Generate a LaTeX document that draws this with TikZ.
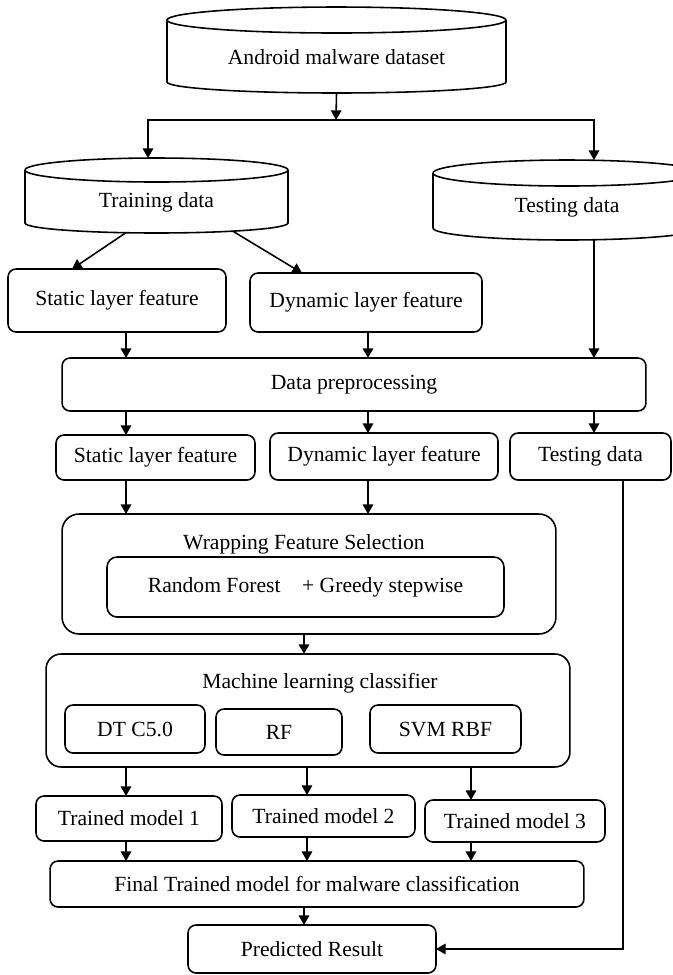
\documentclass[tikz,border=0pt]{standalone}
\usepackage{fontspec}
\setmainfont{Liberation Serif}
\usetikzlibrary{calc,arrows.meta}

% node name, half width, rim radius, bottom radius
\newcommand\drum[4]{%
  \draw ($(#1.north)+(0,#3)$) ellipse [x radius=#2, y radius=#3];
  \draw ($(#1.north west)+(0,#3)$) -- (#1.south west) arc[start angle=180, end angle=360, x radius=#2, y radius=#4] -- ($(#1.north east)+(0,#3)$);
  \coordinate (#1-top) at ($(#1.north)+(0,2*#3)$);
  \coordinate (#1-bot) at ($(#1.south)+(0,-#4)$);
}

\tikzset{
  box/.style={draw, rounded corners=0.16cm, outer sep=0pt},
  frame/.style={draw, rounded corners=0.34cm, outer sep=0pt},
  body/.style={outer sep=0pt},
  arr/.style={-{Triangle[length=5.5pt,width=6pt]}},
  every node/.style={font=\fontsize{12.3pt}{14pt}\selectfont}
}

\begin{document}
\begin{tikzpicture}[x=0.02cm, y=-0.02cm, line width=0.9pt]
\clip (0,0) rectangle (673,975);

\node[body, minimum width=6.78cm, minimum height=0.98cm] (amd) at (336.5,57.5) {Android malware dataset};
\drum{amd}{3.39cm}{0.26cm}{0.22cm}
\node[body, minimum width=5.26cm, minimum height=0.82cm] (trn) at (156.5,202.5) {Training data};
\drum{trn}{2.63cm}{0.24cm}{0.2cm}
\node[body, minimum width=5.36cm, minimum height=0.84cm] (tst) at (567,207) {Testing data};
\drum{tst}{2.68cm}{0.26cm}{0.24cm}

\node[box, minimum width=4.36cm, minimum height=1.26cm] (sf1) at (117,300.5) {Static layer feature};
\node[box, minimum width=4.64cm, minimum height=1.18cm] (df1) at (366,302.5) {Dynamic layer feature};
\node[box, minimum width=11.68cm, minimum height=1.06cm] (pre) at (354,384.5) {Data preprocessing};
\node[box, minimum width=3.98cm, minimum height=0.9cm] (sf2) at (155.5,457.5) {Static layer feature};
\node[box, minimum width=4.56cm, minimum height=0.94cm] (df2) at (384,456.5) {Dynamic layer feature};
\node[box, minimum width=3.22cm, minimum height=0.94cm] (td2) at (590.5,456.5) {Testing data};

\node[frame, minimum width=9.88cm, minimum height=2.4cm] (wfs) at (309,574) {};
\node (wfst) at (304,544) {Wrapping Feature Selection};
\node[box, rounded corners=0.2cm, minimum width=7.94cm, minimum height=1.2cm] (rfg) at (305.5,587) {Random Forest\quad+ Greedy stepwise};

\node[frame, rounded corners=0.3cm, minimum width=10.48cm, minimum height=2.26cm] (mlc) at (308,710.5) {};
\node (mlct) at (320,683) {Machine learning classifier};
\node[box, minimum width=2.8cm, minimum height=0.96cm] (dt) at (135,729) {DT C5.0};
\node[box, minimum width=2.52cm, minimum height=0.92cm] (rf) at (279,732) {RF};
\node[box, minimum width=3.02cm, minimum height=0.96cm] (svm) at (445.5,729) {SVM RBF};

\node[box, minimum width=3.72cm, minimum height=0.9cm] (tm1) at (129,818.5) {Trained model 1};
\node[box, minimum width=3.66cm, minimum height=0.84cm] (tm2) at (323.5,816) {Trained model 2};
\node[box, minimum width=3.6cm, minimum height=0.84cm] (tm3) at (515,821) {Trained model 3};
\node[box, minimum width=10.68cm, minimum height=0.92cm] (fin) at (317,884) {Final Trained model for malware classification};
\node[box, minimum width=4.96cm, minimum height=0.96cm] (prd) at (312,949) {Predicted Result};

\coordinate (split) at (336,120);
\coordinate (cT) at (148,0);
\coordinate (cA) at (126,0);
\coordinate (cB) at (368,0);
\coordinate (cC) at (594,0);
\coordinate (cD) at (304,0);
\coordinate (cE) at (307,0);
\coordinate (cF) at (471,0);
\coordinate (cG) at (623,0);

\draw[arr] (amd-bot) -- (split);
\draw[arr] (split) -| (trn-top -| cT);
\draw[arr] (split) -| (tst-top -| cC);
\draw[arr] ($(trn-bot)+(-31,0)$) -- ($(sf1.north west)+(64,0)$);
\draw[arr] ($(trn-bot)+(76,-2)$) -- ($(df1.north west)+(52,0)$);
\draw[arr] (sf1.south -| cA) -- (pre.north -| cA);
\draw[arr] (df1.south -| cB) -- (pre.north -| cB);
\draw[arr] (tst-bot -| cC) -- (pre.north -| cC);
\draw[arr] (pre.south -| cA) -- (sf2.north -| cA);
\draw[arr] (pre.south -| cB) -- (df2.north -| cB);
\draw[arr] (pre.south -| cC) -- (td2.north -| cC);
\draw[arr] (sf2.south -| cA) -- (wfs.north -| cA);
\draw[arr] (df2.south -| cB) -- (wfs.north -| cB);
\draw[arr] (wfs.south -| cD) -- (mlc.north -| cD);
\draw[arr] (mlc.south -| cA) -- (tm1.north -| cA);
\draw[arr] (mlc.south -| cE) -- (tm2.north -| cE);
\draw[arr] (mlc.south -| cF) -- (tm3.north -| cF);
\draw[arr] (tm1.south -| cA) -- (fin.north -| cA);
\draw[arr] (tm2.south -| cE) -- (fin.north -| cE);
\draw[arr] (tm3.south -| cF) -- (fin.north -| cF);
\draw[arr] (fin.south -| cD) -- (prd.north -| cD);
\draw[arr] (td2.south -| cG) |- (prd.east);
\end{tikzpicture}
\end{document}
